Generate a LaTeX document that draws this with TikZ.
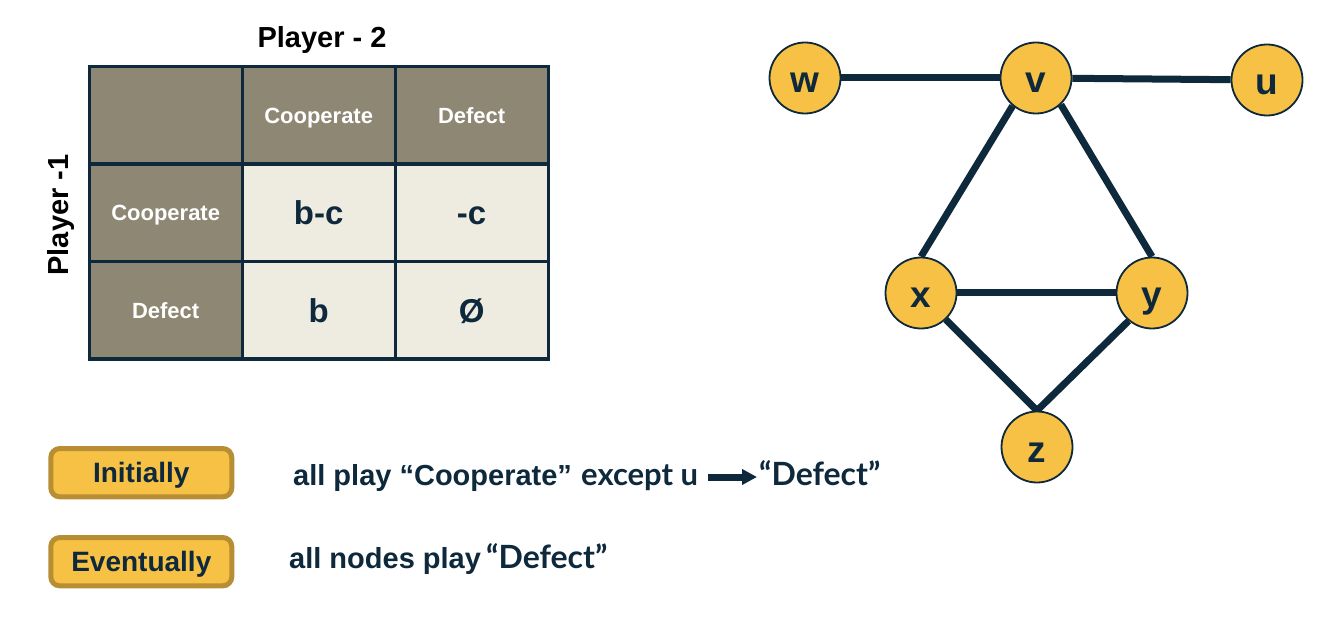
\documentclass[tikz,border=0pt]{standalone}
\usepackage{fontspec}
\setmainfont{Liberation Sans}
\newfontfamily\latof{Lato}
\usetikzlibrary{arrows.meta}
\definecolor{navy}{RGB}{14,40,60}
\definecolor{headfill}{RGB}{142,135,116}
\definecolor{cellfill}{RGB}{238,235,225}
\definecolor{gold}{RGB}{246,193,68}
\definecolor{goldedge}{RGB}{184,142,52}
\pgfdeclarelayer{bg}
\pgfsetlayers{bg,main}
\begin{document}
\begin{tikzpicture}[x=1pt,y=-1pt,
 cell/.style={draw=navy,line width=3.3pt,minimum width=153pt,minimum height=97.5pt,inner sep=0pt,outer sep=0pt},
 headcell/.style={cell,fill=headfill,text=white,font=\fontsize{22pt}{24pt}\selectfont\bfseries,text height=15.8pt,text depth=0pt},
 paycell/.style={cell,fill=cellfill,text=navy,font=\fontsize{33pt}{36pt}\selectfont\bfseries,text height=23.6pt,text depth=0pt},
 gnode/.style={circle,draw=navy,line width=1.8pt,fill=gold,minimum size=71pt,inner sep=0pt,text=navy,font=\fontsize{37pt}{40pt}\selectfont\bfseries,text height=30pt,text depth=0pt},
 edge/.style={draw=navy,line width=7pt},
 badge/.style={draw=goldedge,line width=5pt,fill=gold,rounded corners=9pt,minimum width=181pt,minimum height=48.3pt,inner sep=0pt,text=navy,font=\fontsize{28pt}{30pt}\selectfont\bfseries,text height=20pt,text depth=0pt},
 title/.style={font=\fontsize{29pt}{32pt}\selectfont\bfseries,text=black,inner sep=0pt},
 body/.style={font=\fontsize{29pt}{32pt}\selectfont\bfseries,text=navy,inner sep=0pt,anchor=base west},
 latobody/.style={font=\fontsize{31pt}{33pt}\selectfont\latof\bfseries,text=navy,inner sep=0pt,anchor=base west},
 latoquote/.style={font=\fontsize{32pt}{34pt}\selectfont\latof\bfseries,text=navy,inner sep=0pt,anchor=base west},
]
\useasboundingbox (0,0) rectangle (1321,617);
\begin{pgfonlayer}{bg}
\fill[white] (0,0) rectangle (1321,617);
\end{pgfonlayer}

% titles
\node[title,anchor=base] (p2) at (322,48) {Player - 2};
\node[title,rotate=90,anchor=base] (p1) at (68,215) {Player -1};

% table
\node[cell,fill=headfill] (c00) at (165.65,115.25) {};
\node[headcell] (c01) at (318.65,115.25) {Cooperate};
\node[headcell] (c02) at (471.65,115.25) {Defect};
\node[headcell] (c10) at (165.65,212.75) {Cooperate};
\node[paycell] (c11) at (318.65,212.75) {b-c};
\node[paycell] (c12) at (471.65,212.75) {-c};
\node[headcell] (c20) at (165.65,310.25) {Defect};
\node[paycell] (c21) at (318.65,310.25) {b};
\node[paycell] (c22) at (471.65,310.25) {Ø};

% graph
\node[gnode] (w) at (805,78) {w};
\node[gnode] (v) at (1036,78) {v};
\node[gnode] (u) at (1267,80) {u};
\node[gnode] (x) at (921,293) {x};
\node[gnode] (y) at (1152,293) {y};
\node[gnode] (z) at (1037,447) {z};
\begin{pgfonlayer}{bg}
\draw[edge] (w) -- (v);
\draw[edge] (v) -- (u);
\draw[edge] (v.230) -- (x.north);
\draw[edge] (v.313) -- (y.north);
\draw[edge] (x) -- (y);
\draw[edge] (x.313) -- (z.north);
\draw[edge] (y.230) -- (z.north);
\end{pgfonlayer}

% badges
\node[badge] (b1) at (141.3,472.7) {Initially};
\node[badge] (b2) at (141.3,561.7) {Eventually};

% statements
\node[body] (t1) at (293,485) {all play “Cooperate”};
\node[latobody] (t1b) at (581,485) {except u};
\node[latoquote] (t1c) at (759,485) {“Defect”};
\coordinate (as) at (708,477);
\coordinate (ae) at (757,477);
\draw[navy,line width=7pt,-{Triangle[length=15pt,width=15pt]}] (as) -- (ae);
\node[body] (t2) at (289,568) {all nodes play};
\node[latoquote] (t2b) at (486,568) {“Defect”};
\end{tikzpicture}
\end{document}
